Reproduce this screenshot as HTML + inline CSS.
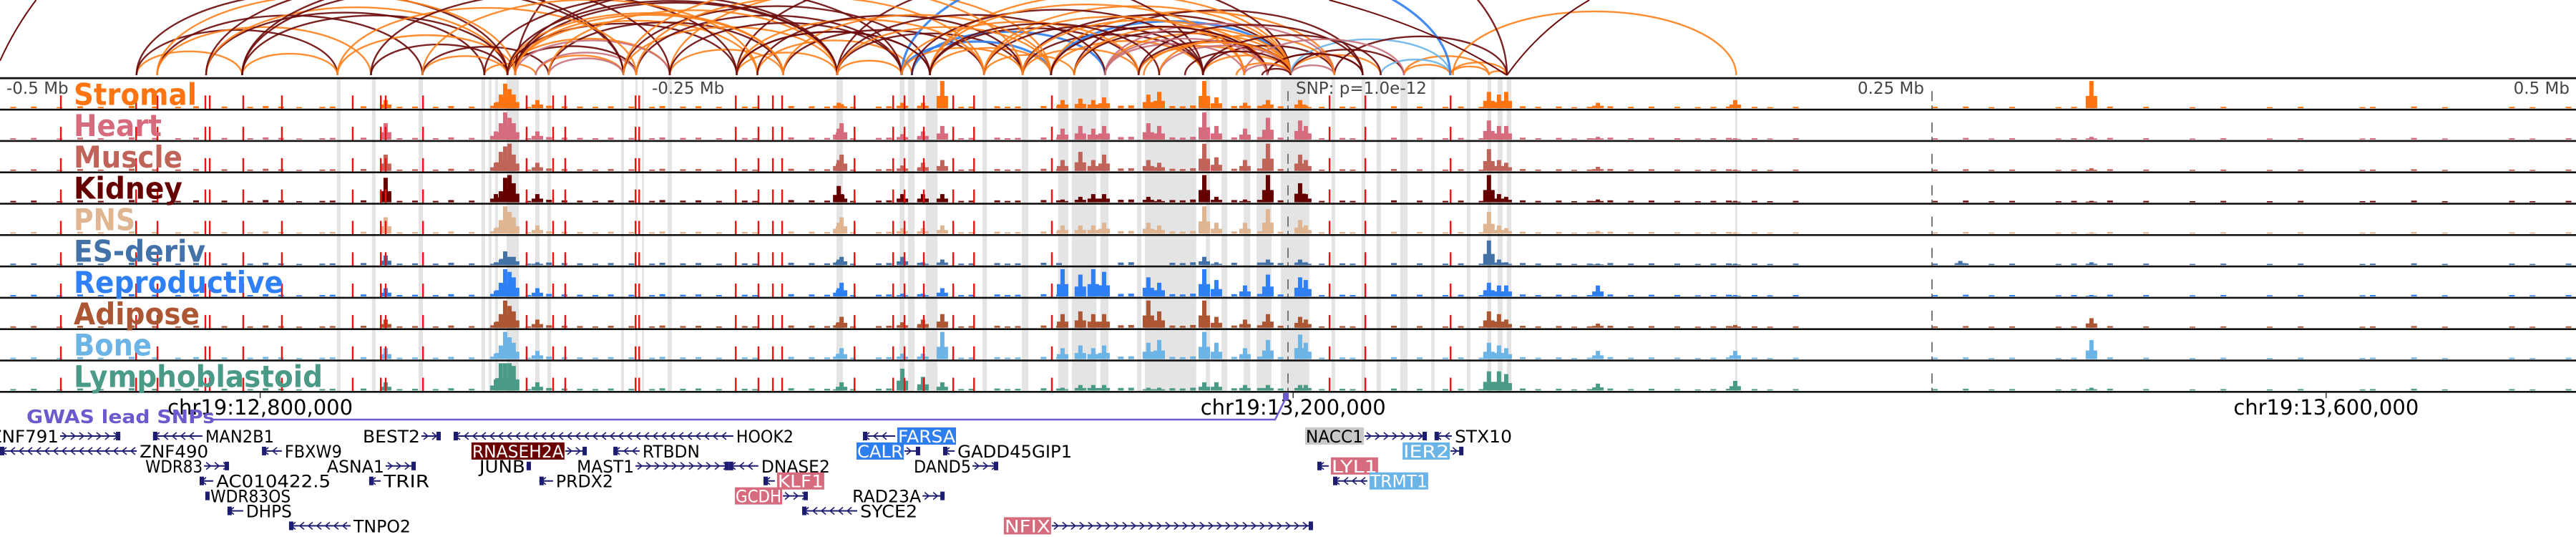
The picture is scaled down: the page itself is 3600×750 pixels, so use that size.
<!DOCTYPE html>
<html><head><meta charset="utf-8">
<style>
html,body{margin:0;padding:0;background:#fff;}
svg{display:block;}
text{font-family:"DejaVu Sans","Liberation Sans",sans-serif;}
</style></head>
<body>
<svg id="fig" width="3600" height="750" viewBox="0 0 3600 750" xmlns="http://www.w3.org/2000/svg">
<g id="arcs"></g>
<g id="bands"></g>
<g id="tracks"></g>
<g id="genes"></g>
</svg>
<script>
// ---------- data ----------
const trackNames = ["Stromal","Heart","Muscle","Kidney","PNS","ES-deriv","Reproductive","Adipose","Bone","Lymphoblastoid"];
const trackColors = ["#ff7410","#d66b7e","#c0645a","#660000","#dfb592","#4272a8","#2f80f7","#ad5633","#6cb3e6","#4a9a88"];
const labelWidths = [172,123,152,152,86,184,293,176,109,348];
const peakPos = [-350.3,-307.5,-305.6,-303.9,-302.2,-300.6,-291.4,-174.4,-173.3,-149.7,-141.7,-134.2,-87.5,-80.6,-75.6,-71.4,-54.2,-50,-32.5,-27.8,-16.7,-7.8,4.7,6.9,78,81.9,84.7,120.3,173.6,311.9,261];
const hStromal = [.3,.2,.5,.9,.7,.5,.3,.2,.15,.2,.2,1,.3,.35,.3,.4,.5,.6,1,.4,.2,.3,.3,.1,.6,.5,.6,.2,.3,1,0];
const hHeart   = [.6,.3,.6,1,.8,.6,.3,.4,.6,.2,.3,.5,.4,.5,.4,.5,.6,.5,1,.5,.4,.8,.7,.5,.7,.5,.5,.1,.05,.1,0];
const hMuscle  = [.6,.3,.7,.9,1,.6,.3,.4,.6,.2,.3,.4,.4,.7,.4,.6,.4,.3,1,.5,.4,1,.6,.4,.8,.4,.3,.15,.05,.1,0];
const hKidney  = [.9,.3,.4,.9,1,.7,.3,.6,.3,.3,.3,.3,.1,.2,.3,.3,.2,.1,1,.2,.1,1,.7,.3,1,.3,.2,.1,.05,.05,0];
const hPNS     = [.6,.2,.5,1,.8,.6,.3,.4,.6,.2,.2,.3,.3,.3,.3,.4,.4,.3,1,.4,.4,.9,.5,.3,.8,.3,.2,.1,.05,.05,0];
const hES      = [.35,.1,.2,.5,.3,.3,.1,.2,.3,.3,.1,.2,0,0,0,0,0,0,.3,.1,0,.2,.2,.1,.9,.2,.1,.05,.05,.1,.15];
const hRepro   = [.3,.2,.5,1,.9,.7,.3,.3,.5,.1,.1,.3,1,.8,1,.9,.7,.5,1,.6,.4,.8,.7,.6,.5,.4,.4,.4,.05,.05,0];
const hAdipose = [.3,.2,.5,1,.8,.6,.3,.2,.4,.2,.3,.5,.5,.6,.5,.5,1,.6,1,.4,.3,.5,.4,.3,.6,.5,.3,.15,.1,.35,0];
const hBone    = [.4,.2,.5,1,.8,.6,.3,.2,.4,.2,.2,1,.4,.5,.4,.5,.6,.7,1,.6,.4,.7,.9,.6,.6,.5,.4,.3,.3,.7,0];
const hLympho  = [.3,.4,1,1,1,.9,.3,.1,.3,.8,.5,.3,.1,.2,.2,.2,.1,.1,.3,.3,.2,.2,.2,.2,.7,.7,.6,.25,.35,.1,0];
const trackHeights = [hStromal,hHeart,hMuscle,hKidney,hPNS,hES,hRepro,hAdipose,hBone,hLympho];
const bgPos = [-496,-488,-478,-470,-462,-450,-441,-432,-425,-414,-404,-398,-392,-385,-376,-372,-360,-346,-340,-332,-326,-318,-296,-288,-282,-276,-270,-264,-256,-248,-244,-236,-230,-222,-212,-208,-194,-186,-180,-170,-160,-156,-144,-128,-124,-114,-110,-106,-96,-90,-66,-62,-46,-42,-38,-22,-12,-4,12,20,24,40,50,60,66,74,90,96,104,110,116,124,132,140,150,158,164,170,180,186,196,250,262,272,280,298,304,318,332,350,362,380,392,416,420,436,448,474,482,496];
const bgVal = [.05,.06,.04,.07,.05,.08,.06,.05,.07,.06,.05,.08,.06,.04,.05,.06,.07,.05,.06,.05,.08,.06,.05,.09,.07,.06,.05,.07,.06,.05,.08,.06,.07,.05,.06,.05,.08,.07,.06,.05,.06,.07,.08,.05,.06,.07,.05,.06,.08,.07,.09,.1,.08,.07,.1,.08,.09,.07,.05,.06,.05,.07,.06,.05,.06,.05,.07,.05,.06,.04,.05,.07,.05,.06,.05,.04,.05,.06,.05,.04,.05,.05,.06,.04,.05,.04,.05,.06,.05,.04,.05,.04,.05,.04,.05,.06,.04,.05,.04,.05];
const redLines = [-476.4,-447.2,-438.9,-420.3,-418.6,-405.6,-390.6,-363.1,-352.2,-350.3,-335.8,-295.6,-285.3,-280.6,-253.3,-251.9,-214.4,-205.6,-200,-196.4,-168.3,-153.3,-148.9,-141.4,-130,-121.9,-91.7,16.1,30,63.1];
const bandStart = [-369.2,-355.6,-337.5,-313.1,-310.3,-307.8,-303.3,-292.2,-287.5,-258.9,-253.3,-250.8,-240.8,-175.3,-150.8,-147.5,-140.6,-118.6,-103.3,-89.2,-83.9,-72.8,-58.6,-55.6,-31.9,-25.8,-17.2,-12.2,-2.8,16.9,28.6,34.4,43.6,55.6,69.4,77.5,81.4,85,173.6];
const bandEnd   = [-367.8,-354.2,-335.8,-311.7,-309.2,-306.7,-298.6,-290.6,-286.1,-257.8,-252.5,-250,-239.2,-172.8,-148.9,-145,-136.1,-116.9,-100.8,-85.3,-74.4,-69.7,-56.9,-35.6,-30.3,-23.6,-14.7,-6.4,8.3,18.3,30,36.1,46.4,56.9,70.8,78.9,83.3,86.7,174.4];
const arcStart = [-447,-447,-439,-439,-420,-420,-406,-406,-406,-369,-356,-336,-336,-312,-303,-303,-303,-300,-300,-292,-287,-258,-253,-240,-214,-214,-206,-196,-175,-175,-150,-146,-150,-139,-139,-118,-103,-103,-92,-92,-83,-71,-71,-58,-58,-50,-33,-33,-17,-8,1,1,1,-92,-83,-103,-175,-118,-139,-214,-240,45,63,63,78,1,36,45,18,64,-300,-150,-300,-287,-292,
 -447,-439,-420,-406,-369,-356,-336,-312,-303,-300,-287,-258,-253,-240,-214,-206,-196,-175,-150,-146,-139,-118,-103,-92,-83,-71,-58,-50,-33,-17,-8,-300,-303,-258,-214,-175,-139,-118,-92,-71,-56,-40,-20,-10];
const arcEnd   = [-406,-369,-336,-356,-312,-303,-369,-303,-258,-300,-303,-303,-287,-292,-253,-240,-214,-206,-175,-258,-196,-175,-150,-196,-175,-139,-146,-118,-150,-103,-92,-71,-103,-92,-58,-83,-58,-33,1,-33,-8,1,-17,1,-8,1,1,18,1,29,36,18,45,18,29,1,1,1,1,-33,-92,78,78,85,85,63,63,63,85,174,85,63,-240,-258,-253,
 -303,-300,-258,-240,-253,-214,-206,-175,-196,-150,-175,-139,-118,-150,-118,-103,-92,-71,-58,-33,-17,-33,-8,-8,1,18,29,18,36,45,29,-196,-175,-103,-139,-92,-50,-17,-8,-8,1,1,1,1];
const arcKind  = ["O","K","K","O","K","O","O","K","K","O","K","O","K","O","K","O","K","O","K","O","K","O","K","O","O","K","O","K","O","K","R","R","O","O","K","O","O","K","R","O","K","O","H","K","O","H","O","K","H","K","O","H","K","O","K","K","K","O","O","K","O","O","O","O","O","B","B","O","K","O","K","R","H","H","H",
 "K","O","K","K","O","K","O","K","O","K","O","K","O","K","O","K","O","K","O","K","O","K","O","K","O","H","K","O","K","H","K","O","K","O","K","O","K","O","K","H","O","K","O","K"];
const arcColors = {O:"#ff7f1a",K:"#6b0a0a",H:"#c8707a",R:"#2f7ef0",B:"#6ab4e8"};
// long-range loop legs (other anchor outside view): anchor kb, kb where leg exits top
const legAnchor = [85,85,-500];
const legTop = [117,16,-486];
const geneNames = ["ZNF791","MAN2B1","BEST2","HOOK2","FARSA","NACC1","STX10","ZNF490","FBXW9","RNASEH2A","RTBDN","CALR","GADD45GIP1","IER2","WDR83","ASNA1","JUNB","MAST1","DNASE2","DAND5","LYL1","AC010422.5","TRIR","PRDX2","KLF1","TRMT1","WDR83OS","GCDH","RAD23A","DHPS","SYCE2","TNPO2","NFIX"];
const geneStart = [-476.7,-440.6,-336.4,-323.9,-165,29.7,56.9,-500,-398.3,-280.6,-261.9,-148.9,-133.9,63.1,-420.8,-350.3,-295.6,-253.3,-217,-122.5,11.4,-422.5,-356.7,-290.6,-203.6,17.5,-420.3,-196.1,-141.9,-411.7,-188.6,-387.8,-91.7];
const geneEnd   = [-453.3,-421.4,-328.9,-215.3,-152.5,53.9,63.6,-446.9,-390.6,-272.2,-251.7,-142.8,-129.4,68.1,-411.1,-338.6,-293.9,-217,-205.6,-112.5,15.8,-417.2,-352.2,-285.3,-199.2,30.8,-419.4,-186.4,-133.3,-405.6,-167.2,-363.9,9.7];
const geneRow   = [0,0,0,0,0,0,0,1,1,1,1,1,1,1,2,2,2,2,2,2,2,3,3,3,3,3,4,4,4,5,5,6,6];
const geneStrand= ["+","-","+","-","-","+","-","-","-","+","-","+","-","+","+","+","+","+","-","+","-","-","-","-","-","-","-","+","+","-","-","-","+"];
const geneLabelSide = ["L","R","L","R","R","L","R","R","R","L","R","L","R","L","L","L","L","L","R","L","R","R","R","R","R","R","R","L","L","R","R","R","L"];
const geneLabelBg = ["","","","","#2f7ef0","#c8c8c8","","","","#6b0000","","#2f7ef0","","#6ab4e8","","","","","","","#d66b7e","","","","#d66b7e","#6ab4e8","","#d66b7e","","","","","#d66b7e"];

// ---------- scales ----------
const X = kb => 1800 + kb*3.6;
const T0 = 109.3, TH = 43.8, NT = 10;
const trackTop = i => T0 + i*TH;
const barY = (i,v) => trackTop(i)+TH-2 - v*38;
const rowY = r => 609 + r*20.9;
const NS = "http://www.w3.org/2000/svg";
function mk(tag, attrs, parent){const e=document.createElementNS(NS,tag);for(const k in attrs)e.setAttribute(k,attrs[k]);parent.appendChild(e);return e;}

// ---------- arcs ----------
const gA = document.getElementById("arcs");
for(let i=0;i<arcStart.length;i++){
  const x1=X(arcStart[i]), x2=X(arcEnd[i]); const rx=(x2-x1)/2, ry=rx*0.45;
  const p=mk("path",{d:`M${x1},105 A${rx},${ry} 0 0 1 ${x2},105`,fill:"none",stroke:arcColors[arcKind[i]],"stroke-width":arcKind[i]==="R"?3.2:2.4,opacity:0.9},gA);
  
  
}
for(let i=0;i<legAnchor.length;i++){
  const l=mk("path",{d:`M${X(legAnchor[i])},${i===2?85:105} Q${(X(legAnchor[i])*0.6+X(legTop[i])*0.4)},40 ${X(legTop[i])},0`,fill:"none",stroke:"#6b0a0a","stroke-width":2},gA);
  
  
}

// ---------- bands ----------
const gB = document.getElementById("bands");
for(let i=0;i<bandStart.length;i++){
  const r=mk("rect",{x:X(bandStart[i]),y:T0,width:Math.max(2,X(bandEnd[i])-X(bandStart[i])),height:TH*NT,fill:"#e4e4e4"},gB);
  
  
}

// ---------- tracks ----------
const gT = document.getElementById("tracks");
for(let t=0;t<NT;t++){
  const g=mk("g",{},gT);
  
  
  const col=trackColors[t], base=trackTop(t)+TH-2;
  for(let j=0;j<bgPos.length;j++){
    const y=barY(t,bgVal[j]);
    const b=mk("rect",{x:X(bgPos[j]),y:y,width:8,height:base-y,fill:col},g);
    
    
  }
  const hs=trackHeights[t];
  for(let j=0;j<peakPos.length;j++){
    if(hs[j]<=0) continue;
    const y=barY(t,hs[j]);
    const b=mk("rect",{x:X(peakPos[j])-3,y:y,width:6,height:base-y,fill:col},g);
    
    
    const y2=barY(t,hs[j]*0.45);
    const s=mk("rect",{x:X(peakPos[j])-8,y:y2,width:16,height:base-y2,fill:col},g);
    
    
  }
  for(const r of redLines){
    const l=mk("rect",{x:X(r)-1.1,y:trackTop(t)+24,width:2.4,height:20,fill:"#ee1111"},g);
    
    
  }
  for(const kb of [0,250]){
    const d=mk("line",{x1:X(kb),x2:X(kb),y1:trackTop(t)+18,y2:trackTop(t)+TH,stroke:"#777","stroke-width":2,"stroke-dasharray":"14,6"},g);
    
    
  }
  const border=mk("rect",{x:0,y:trackTop(t)+TH-1.3,width:3600,height:2.6,fill:"#111"},g);
  
  
  const lab=mk("text",{x:103,y:trackTop(t)+37,fill:col,"font-size":42,"font-weight":"bold",textLength:labelWidths[t],lengthAdjust:"spacingAndGlyphs"},g);
  lab.textContent=trackNames[t];
  
  
}
const topB=mk("rect",{x:0,y:T0-1.5,width:3600,height:2.8,fill:"#111"},gT);


const axisLabels=[["-0.5 Mb",9,"start"],["-0.25 Mb",911,"start"],["0.25 Mb",2689,"end"],["0.5 Mb",3591,"end"]];
for(const a of axisLabels){
  const tx=mk("text",{x:a[1],y:131,fill:"#444","font-size":23,"text-anchor":a[2]},gT);
  tx.textContent=a[0];
  
  
}
const snpT=mk("text",{x:1811,y:131,fill:"#444","font-size":23},gT);
snpT.textContent="SNP: p=1.0e-12";



// ---------- genomic axis & genes ----------
const gG=document.getElementById("genes");
const chrTicks=[12800000,13200000,13600000];
const chrTickKb=[-399,2,403];
for(let i=0;i<chrTicks.length;i++){
  const tk=mk("line",{x1:X(chrTickKb[i]),x2:X(chrTickKb[i]),y1:548,y2:556,stroke:"#333","stroke-width":1.5},gG);
  
  
  const tl=mk("text",{x:X(chrTickKb[i]),y:579,"font-size":29,"text-anchor":"middle",fill:"#000"},gG);
  tl.textContent="chr19:"+chrTicks[i].toLocaleString("en-US");
  
  
}
const gw=mk("text",{x:37,y:591,"font-size":26,"font-weight":"bold",fill:"#6a5acd",textLength:263,lengthAdjust:"spacingAndGlyphs"},gG);
gw.textContent="GWAS lead SNPs";


const gl=mk("path",{d:"M298,586 L1782,586 L1797,556",fill:"none",stroke:"#6a5acd","stroke-width":2.5},gG);


const snpM=mk("rect",{x:1793,y:549,width:8,height:10,fill:"#6a5acd"},gG);



for(let i=0;i<geneNames.length;i++){
  const g=mk("g",{},gG);
  
  
  const x1=X(geneStart[i]), x2=X(geneEnd[i]), y=rowY(geneRow[i]);
  const col="#1c1c70";
  mk("line",{x1:x1,x2:x2,y1:y,y2:y,stroke:col,"stroke-width":2},g);
  const dir=geneStrand[i]==="+"?1:-1;
  for(let cx=x1+6;cx<x2-4;cx+=12){
    mk("path",{d:`M${cx-3*dir},${y-5} L${cx+3*dir},${y} L${cx-3*dir},${y+5}`,fill:"none",stroke:col,"stroke-width":1.6},g);
  }
  const ex=dir>0?x2-6:x1; mk("rect",{x:ex,y:y-6,width:6,height:12,fill:col},g);
  const name=geneNames[i], fs=24, w=name.length*16;
  const side=geneLabelSide[i], bg=geneLabelBg[i];
  const lx=side==="L"?x1-3-w:x2+3;
  if(bg){ mk("rect",{x:lx,y:y-12,width:w+2,height:24,fill:bg},g); }
  const tx=mk("text",{x:lx+1,y:y+9,"font-size":fs,fill:bg?(bg==="#c8c8c8"?"#000":"#fff"):"#000",textLength:w,lengthAdjust:"spacingAndGlyphs"},g);
  tx.textContent=name;
}
</script>
</body></html>
